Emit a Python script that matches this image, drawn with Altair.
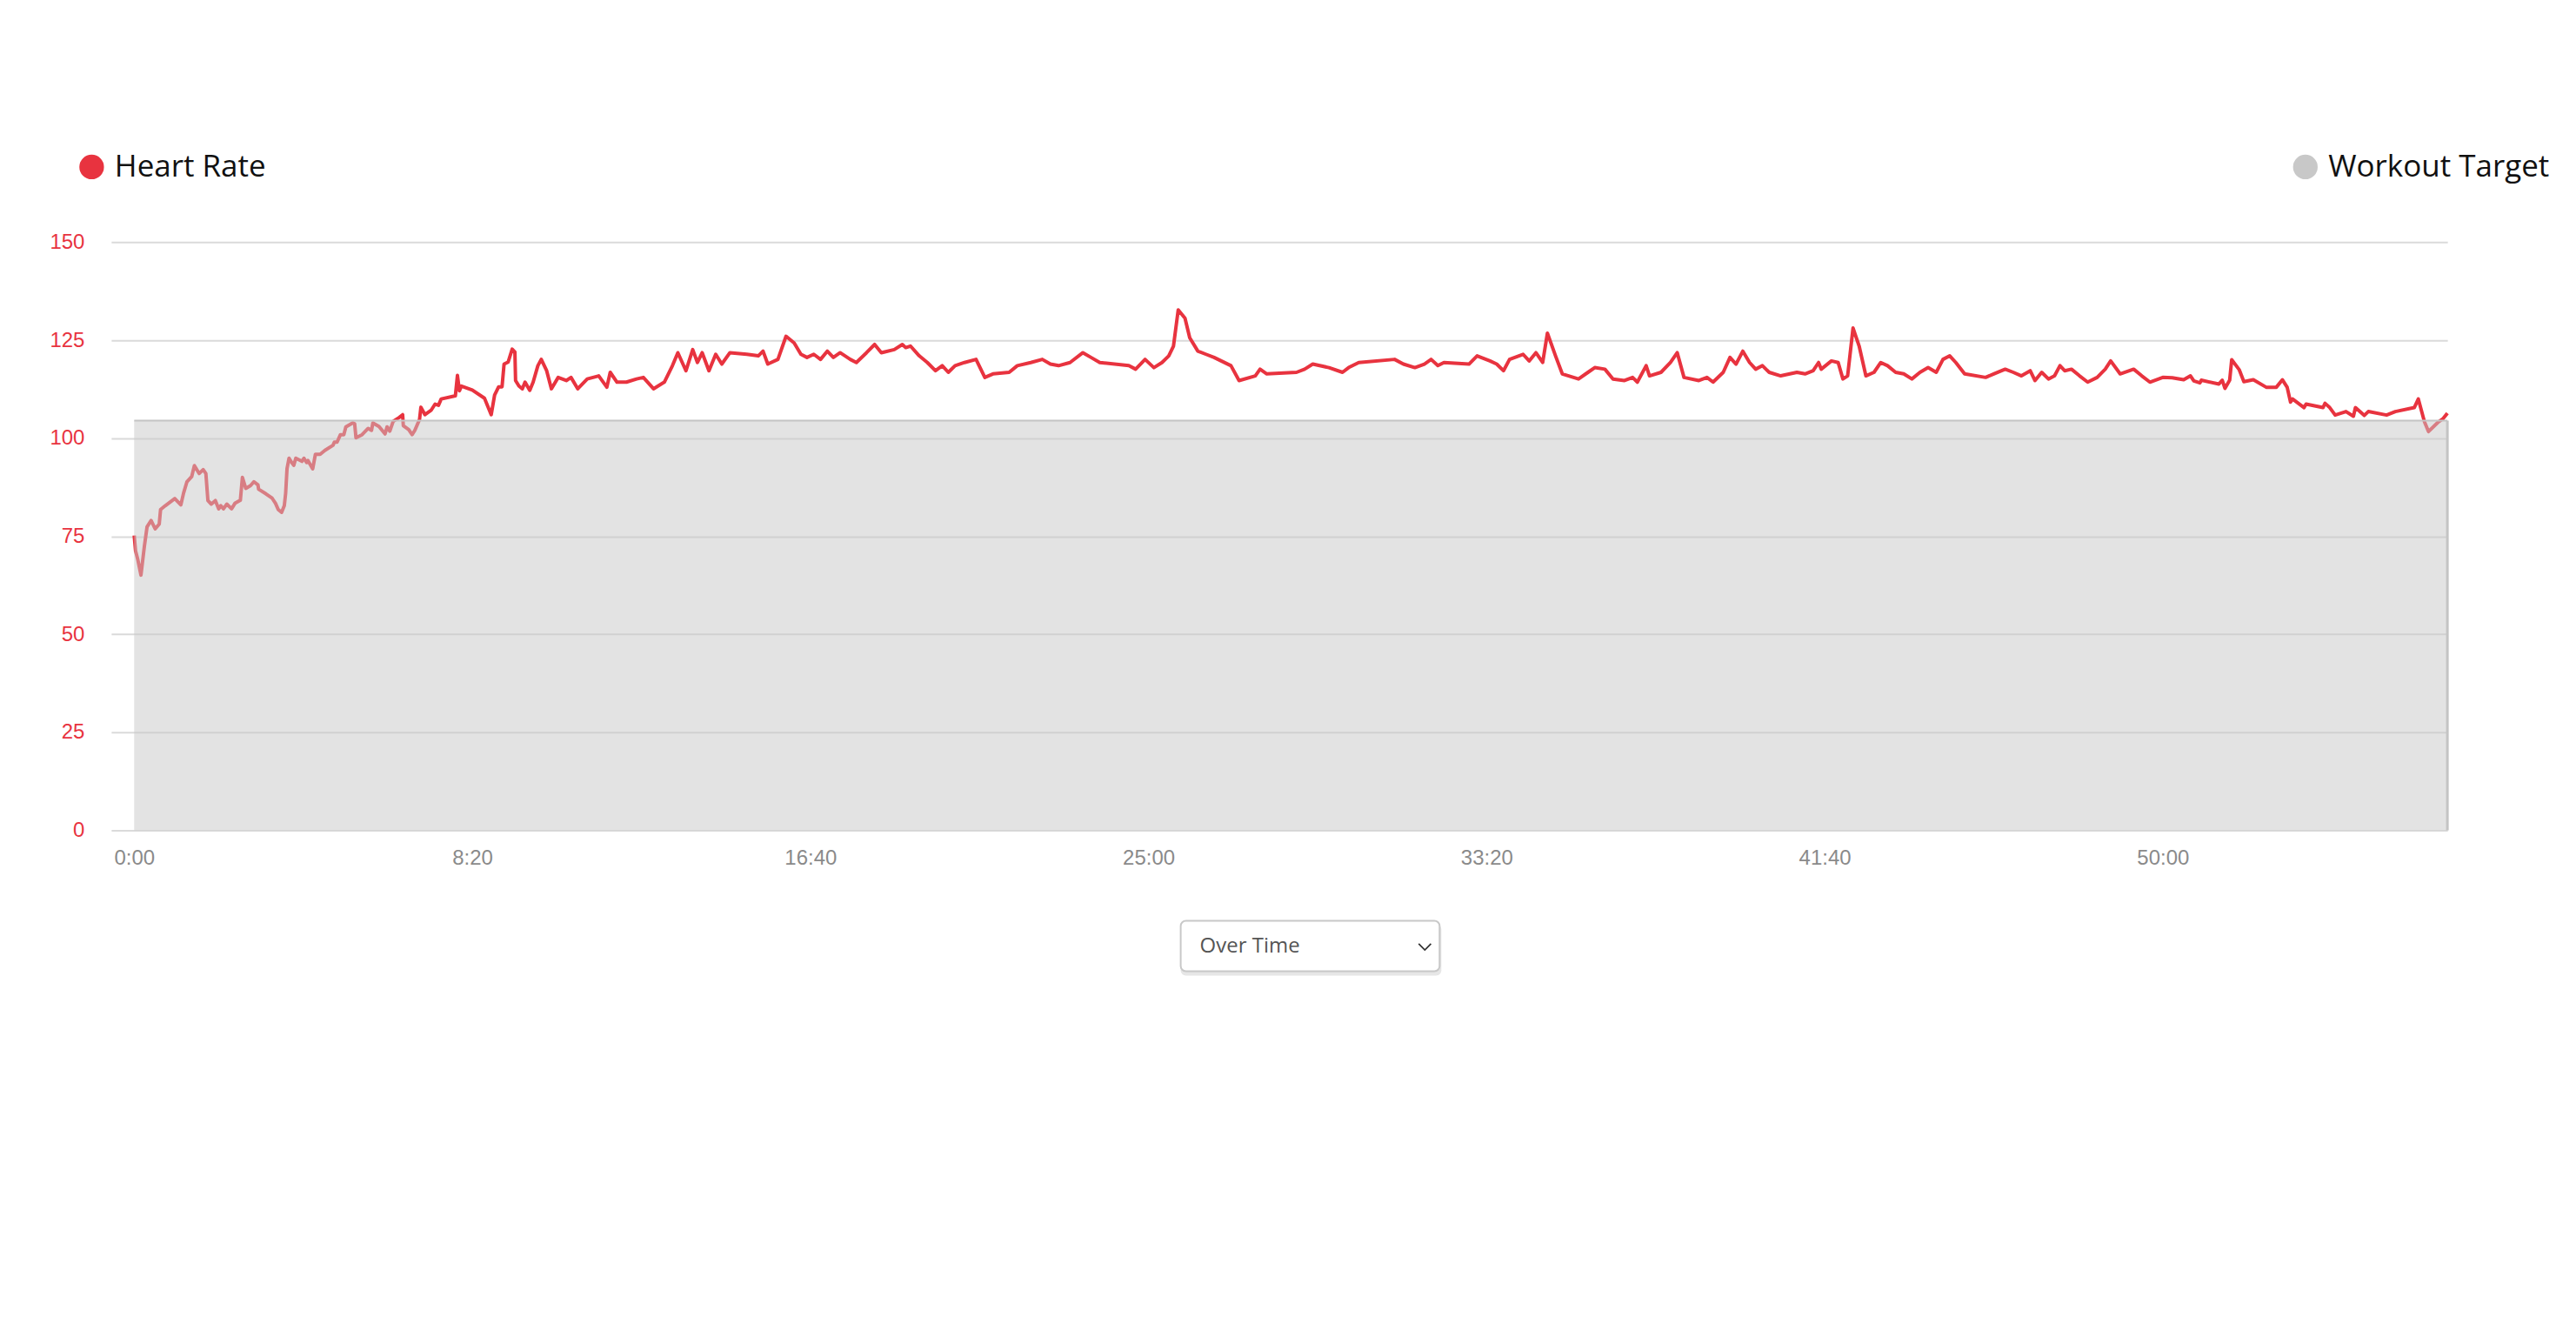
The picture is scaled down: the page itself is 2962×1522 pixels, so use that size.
import altair as alt
import pandas as pd

# ---- data -------------------------------------------------------------------
TIME_S = [
    0, 2, 5, 10, 15, 19, 25, 31, 37, 39, 46, 60, 69, 73, 78, 85, 89, 96, 102, 106,
    109, 114, 120, 125, 128, 132, 137, 144, 149, 157, 160, 165, 172, 177, 183, 184,
    195, 204, 209, 213, 218, 222, 224, 226, 229, 233, 236, 239, 248, 251, 255, 257,
    264, 268, 275, 282, 294, 296, 300, 305, 310, 313, 323, 326, 328, 337, 346, 351,
    353, 362, 371, 374, 378, 383, 392, 397, 398, 406, 411, 415, 422, 424, 430, 439,
    445, 450, 454, 475, 478, 481, 484, 500, 518, 528, 533, 539, 544, 547, 553, 559,
    563, 564, 569,
    574, 578, 585, 590, 597, 602, 610, 617, 627, 639, 646, 656, 670, 687, 699, 704,
    714, 728, 743, 753, 768, 784, 796, 804, 816, 826, 833, 840, 850, 860, 869, 881,
    906, 923, 930, 937, 952, 964, 976, 986, 995, 1005, 1015, 1025, 1034, 1044, 1059,
    1068, 1083, 1095, 1105, 1124, 1136, 1141, 1148, 1161, 1173, 1185, 1195, 1204,
    1214, 1228, 1245, 1258, 1270, 1294, 1306, 1326, 1343, 1355, 1367, 1384, 1403,
    1415, 1428, 1471, 1481, 1495, 1508, 1520, 1530, 1537, 1544, 1554, 1561, 1573,
    1585, 1597, 1622, 1634, 1658, 1665, 1675, 1719, 1731, 1743, 1767, 1787, 1796,
    1811, 1864, 1877, 1894, 1908, 1918, 1928, 1937, 1974, 1986, 2005, 2015, 2025,
    2034, 2054, 2063, 2073, 2083, 2090, 2102, 2112, 2136, 2150, 2160, 2175, 2187,
    2204, 2216, 2223, 2236, 2241, 2258, 2272, 2282, 2292, 2314, 2326, 2335, 2350,
    2360, 2369, 2379, 2389, 2398, 2408, 2418, 2435, 2459, 2471, 2483, 2491, 2495,
    2510, 2520, 2527, 2534, 2542, 2551, 2561, 2573, 2583, 2593, 2605, 2617, 2629,
    2641, 2653, 2665, 2675, 2685, 2694, 2707, 2738, 2750, 2767, 2779, 2791, 2804,
    2811, 2821, 2831, 2840, 2848, 2855, 2865, 2877, 2889, 2903, 2915, 2923, 2937,
    2957, 2969, 2981, 3000,
    3014, 3031, 3041, 3046, 3055, 3057, 3083, 3088, 3092, 3099, 3102, 3113, 3120,
    3134, 3153, 3168, 3177, 3184, 3189, 3192, 3209, 3212, 3237, 3240, 3247, 3255,
    3271, 3282, 3285, 3298, 3304, 3331, 3344, 3372, 3378, 3387, 3393, 3408, 3414,
    3421,
]
HEART_RATE = [
    75.2, 71.3, 69.3, 65.1, 72.4, 77.4, 79.0, 76.9, 78.1, 81.8, 82.8, 84.6, 83.0,
    86.0, 88.9, 90.2, 93.0, 91.0, 92.0, 91.0, 84.1, 83.2, 84.1, 82.0, 82.8, 82.0,
    83.2, 82.0, 83.4, 84.2, 90.0, 87.2, 87.9, 88.9, 88.1, 87.0, 85.8, 84.7, 83.4,
    81.8, 81.1, 82.8, 86.0, 92.2, 94.9, 93.8, 93.1, 94.9, 94.1, 94.9, 93.8, 94.3,
    92.2, 95.9, 95.9, 96.9, 98.2, 99.0, 99.0, 100.9, 100.9, 102.9, 103.9, 103.7,
    100.1, 100.9, 102.5, 102.0, 103.9, 103.0, 101.1, 102.9, 101.8, 104.3, 105.3,
    106.0, 103.2, 102.2, 100.9, 102.0, 104.8, 107.9, 106.0, 107.1, 108.7, 108.4,
    110.0, 110.8, 116.0, 112.1, 113.3, 112.3, 110.2, 106.0, 111.0, 113.1, 113.1,
    118.9, 119.4, 122.7, 122.0, 114.7, 113.3,
    112.6, 114.3, 112.2, 114.3, 118.5, 120.1, 117.2, 112.6, 115.5, 114.7, 115.5,
    112.6, 115.1, 115.9, 113.0, 116.8, 114.3, 114.3, 115.1, 115.5, 112.6, 114.3,
    118.5, 121.8, 117.2, 122.6, 119.3, 121.8, 117.2, 121.4, 118.9, 121.8, 121.4,
    121.0, 122.2, 118.9, 120.1, 126.0, 124.3, 121.4, 120.6, 121.4, 120.1, 122.2,
    120.6, 121.8, 120.1, 119.3, 121.8, 123.9, 121.8, 122.6, 123.9, 123.1, 123.5,
    121.0, 119.3, 117.2, 118.5, 116.8, 118.5, 119.3, 120.1, 115.5, 116.4, 116.8,
    118.5, 119.3, 120.1, 118.9, 118.5, 119.3, 121.8, 120.6, 119.3, 118.5, 117.6,
    120.1, 118.0, 119.3, 121.0, 123.5, 132.7, 130.6, 125.6, 122.2, 121.4, 120.6,
    118.5, 114.7, 115.9, 117.6, 116.4, 116.8, 117.6, 118.9, 118.0, 116.8, 118.0,
    119.3, 120.1, 118.9, 118.0, 118.9, 120.1, 118.5, 119.3, 118.9, 121.0, 119.7,
    118.9, 117.2, 120.1, 121.4, 119.7, 121.8, 119.3, 126.8, 121.0, 116.4, 115.1,
    116.8, 118.0, 117.6, 115.1, 114.7, 115.5, 114.3, 118.5, 115.9, 116.8, 119.3,
    121.8, 115.5, 114.7, 115.5, 114.3, 116.8, 120.6, 118.9, 122.2, 119.3, 117.6,
    118.5, 116.8, 115.9, 116.8, 116.4, 117.2, 119.3, 117.6, 119.7, 119.3, 115.1,
    115.9, 128.1, 123.5, 115.9, 116.8, 119.3, 118.5, 116.8, 116.4, 115.1, 116.8,
    118.0, 116.8, 120.1, 121.0, 119.3, 116.4, 115.5, 116.4, 117.6, 116.8, 115.9,
    117.2, 114.7, 116.8, 115.1, 115.9, 118.5, 117.2, 117.6, 115.9, 114.3, 115.5,
    117.6, 119.7, 116.4, 117.6, 115.9, 114.3, 115.5,
    115.4, 114.9, 115.9, 114.6, 114.1, 114.8, 113.8, 114.8, 112.7, 114.8, 120.0,
    117.5, 114.4, 114.9, 113.0, 113.0, 114.9, 113.0, 109.2, 110.0, 107.8, 108.7,
    107.8, 108.9, 107.8, 105.9, 106.8, 105.6, 107.8, 105.8, 106.8, 105.9, 106.8,
    107.8, 110.0, 104.2, 101.7, 104.2, 104.9, 106.4,
]
TARGET_TIME = [0, 3421]
TARGET_BPM = [104.5, 104.5]
X_TICKS = [0, 500, 1000, 1500, 2000, 2500, 3000]
Y_TICKS = [0, 25, 50, 75, 100, 125, 150]
SERIES = ["Heart Rate", "Workout Target"]
SELECT_LABEL = ["Over Time"]

# ---- styling -----------------------------------------------------------------
RED = "#e8333f"
TARGET_GRAY = "#c8c8c8"
AXIS_FONT = "Liberation Sans"
UI_FONT = "Open Sans"
W, H = 2689, 677

hr_df = pd.DataFrame({"t": TIME_S, "hr": HEART_RATE, "series": SERIES[0]})
tg_df = pd.DataFrame({"t": TARGET_TIME, "bpm": TARGET_BPM, "series": SERIES[1]})
ui_df = pd.DataFrame({"label": SELECT_LABEL})

x_scale = alt.Scale(domain=[-34, TARGET_TIME[-1]], nice=False, zero=False)
y_scale = alt.Scale(domain=[Y_TICKS[0], Y_TICKS[-1]], nice=False)

x_axis = alt.Axis(
    values=X_TICKS,
    labelExpr="floor(datum.value/60) + ':' + (datum.value % 60 < 10 ? '0' : '') + (datum.value % 60)",
    grid=False, domain=False, ticks=False, tickSize=0, labelPadding=20,
    labelFont=AXIS_FONT, labelFontSize=24, labelColor="#8a8a8a", title=None,
)
y_axis = alt.Axis(
    values=Y_TICKS, grid=True, gridColor="#dadada", gridWidth=2,
    domain=False, ticks=False, tickSize=0, labelPadding=31,
    labelFont=AXIS_FONT, labelFontSize=24, labelColor=RED, title=None,
)

legend_common = dict(
    orient="none", title=None, padding=0, symbolType="circle", symbolSize=804,
    symbolStrokeWidth=0, symbolOpacity=1, labelFont=UI_FONT, labelFontSize=35,
    labelColor="#111111", labelOffset=9, labelLimit=400,
)

line = alt.Chart(hr_df).mark_line(strokeWidth=4, strokeJoin="round").encode(
    x=alt.X("t:Q", scale=x_scale, axis=x_axis),
    y=alt.Y("hr:Q", scale=y_scale, axis=y_axis),
    stroke=alt.Stroke(
        "series:N",
        scale=alt.Scale(domain=[SERIES[0]], range=[RED]),
        legend=alt.Legend(legendX=-40, legendY=-104, symbolFillColor=RED, **legend_common),
    ),
)

area = alt.Chart(tg_df).mark_area(opacity=0.5).encode(
    x=alt.X("t:Q", scale=x_scale),
    y=alt.Y("bpm:Q", scale=y_scale),
    y2=alt.datum(0),
    fill=alt.Fill(
        "series:N",
        scale=alt.Scale(domain=[SERIES[1]], range=[TARGET_GRAY]),
        legend=alt.Legend(legendX=2508, legendY=-104, symbolFillColor=TARGET_GRAY, **legend_common),
    ),
)

edge_top = alt.Chart(tg_df).mark_line(color="#c4c4c4", strokeWidth=2).encode(
    x=alt.X("t:Q", scale=x_scale), y=alt.Y("bpm:Q", scale=y_scale)
)
edge_right = alt.Chart(tg_df).transform_filter(
    alt.datum.t == TARGET_TIME[-1]
).mark_rule(color="#c4c4c4", strokeWidth=3).encode(
    x=alt.X("t:Q", scale=x_scale), y=alt.Y("bpm:Q", scale=y_scale), y2=alt.datum(0)
)

# dropdown ("Over Time") drawn below the chart
sel_shadow = alt.Chart(ui_df).mark_rect(color="#e6e6e6", cornerRadius=6).encode(
    x=alt.value(1231), x2=alt.value(1531), y=alt.value(785), y2=alt.value(844)
)
sel_box = alt.Chart(ui_df).mark_rect(
    fill="white", stroke="#c8c8c8", strokeWidth=2, cornerRadius=6
).encode(x=alt.value(1231), x2=alt.value(1529), y=alt.value(781), y2=alt.value(839))
sel_text = alt.Chart(ui_df).mark_text(
    font=UI_FONT, fontSize=24, color="#555555", align="left", baseline="middle"
).encode(x=alt.value(1253), y=alt.value(811), text="label:N")
sel_chevron = alt.Chart(ui_df).mark_point(
    shape="M-1,-0.5L0,0.5L1,-0.5", filled=False, stroke="#333333", strokeWidth=1.8, size=200, opacity=1
).encode(x=alt.value(1512), y=alt.value(811))

chart = alt.layer(
    line, area, edge_top, edge_right, sel_shadow, sel_box, sel_text, sel_chevron
).resolve_legend(stroke="independent", fill="independent").properties(
    width=W, height=H,
    autosize=alt.AutoSizeParams(type="none"),
    padding={"left": 120, "top": 270, "right": 140, "bottom": 200},
    background="white",
).configure_view(stroke=None)

chart.save("out.html", embed_options={"renderer": "svg", "actions": False})
